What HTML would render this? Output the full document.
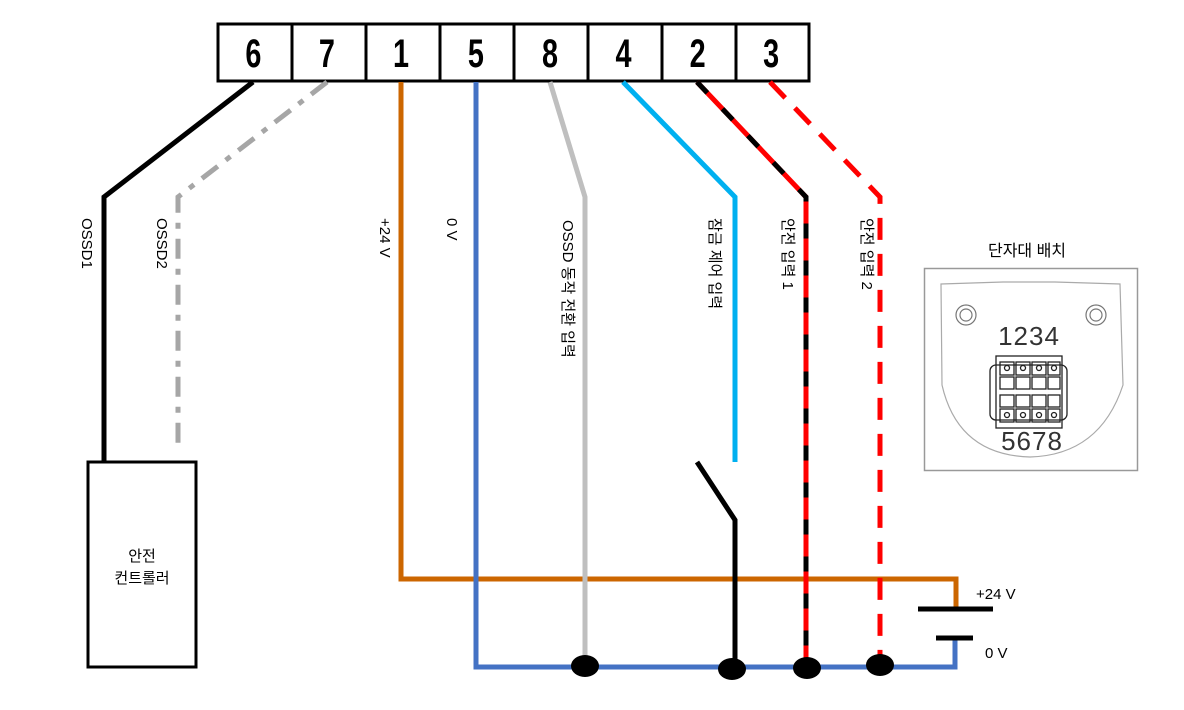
<!DOCTYPE html>
<html><head><meta charset="utf-8"><style>
html,body{margin:0;padding:0;background:#fff}
svg{display:block}
text{font-family:"Liberation Sans","Noto Sans CJK KR",sans-serif}
</style></head><body>
<svg width="1184" height="710" viewBox="0 0 1184 710" xmlns="http://www.w3.org/2000/svg">
<g stroke="#000" stroke-width="3" fill="#fff">
<rect x="218" y="24" width="591" height="57"/>
<line x1="292" y1="24" x2="292" y2="81"/><line x1="366" y1="24" x2="366" y2="81"/>
<line x1="440" y1="24" x2="440" y2="81"/><line x1="514" y1="24" x2="514" y2="81"/>
<line x1="588" y1="24" x2="588" y2="81"/><line x1="662" y1="24" x2="662" y2="81"/>
<line x1="736" y1="24" x2="736" y2="81"/>
</g>
<g font-size="40" font-weight="bold" text-anchor="middle" fill="#000" transform="scale(0.72,1)">
<text x="352" y="67">6</text><text x="454" y="67">7</text><text x="557" y="67">1</text>
<text x="661" y="67">5</text><text x="764" y="67">8</text><text x="866" y="67">4</text>
<text x="969" y="67">2</text><text x="1071" y="67">3</text>
</g>
<g fill="none" stroke-width="5">
<polyline points="253,82 104,197 104,462" stroke="#000"/>
<polyline points="327,82 178,197 178,452" stroke="#a6a6a6" stroke-dasharray="20 10 6 10"/>
<polyline points="401,82 401,579 956,579 956,607" stroke="#cc6600"/>
<polyline points="476,82 476,667 955,667 955,640" stroke="#4472c4"/>
<polyline points="550,82 585,197 585,665" stroke="#bfbfbf"/>
<polyline points="623,82 735,197 735,462" stroke="#00b0f0"/>
<polyline points="697,462 735,520 735,668" stroke="#000"/>
<polyline points="697,82 806,197 806,668" stroke="#ff0000"/>
<polyline points="697,82 806,197 806,668" stroke="#000" stroke-dasharray="15 22"/>
<polyline points="770,82 880,197 880,665" stroke="#ff0000" stroke-dasharray="22 14"/>
</g>
<line x1="918" y1="609" x2="993" y2="609" stroke="#000" stroke-width="5"/>
<line x1="936" y1="638" x2="973" y2="638" stroke="#000" stroke-width="5"/>
<text x="976" y="599" font-size="15">+24 V</text>
<text x="985" y="658" font-size="15">0 V</text>
<g fill="#000">
<ellipse cx="585" cy="666" rx="14" ry="11"/><ellipse cx="732" cy="669" rx="14" ry="11"/>
<ellipse cx="807" cy="668" rx="14" ry="11"/><ellipse cx="880" cy="665" rx="14" ry="11"/>
</g>
<rect x="88" y="462" width="108" height="205" fill="#fff" stroke="#000" stroke-width="3"/>
<text x="142" y="561" font-size="15" text-anchor="middle">안전</text>
<text x="142" y="583" font-size="15" text-anchor="middle">컨트롤러</text>
<g font-size="15" fill="#000">
<text transform="translate(82,218) rotate(90)">OSSD1</text>
<text transform="translate(157,218) rotate(90)">OSSD2</text>
<text transform="translate(380,218) rotate(90)">+24 V</text>
<text transform="translate(447,218) rotate(90)">0 V</text>
<text transform="translate(563,220) rotate(90)">OSSD 동작 전환 입력</text>
<text transform="translate(710,218) rotate(90)">잠금 제어 입력</text>
<text transform="translate(783,218) rotate(90)">안전 입력 1</text>
<text transform="translate(862,218) rotate(90)">안전 입력 2</text>
</g>
<text x="1027" y="256" font-size="16" text-anchor="middle">단자대 배치</text>
<rect x="924.5" y="268.5" width="213" height="202" fill="#fff" stroke="#999" stroke-width="1.5"/>
<path d="M941,284 L1003,282 L1055,282 L1120,284 L1123,385 Q1100,455 1030,457 Q958,455 942,385 Z" fill="none" stroke="#aaa" stroke-width="1.2"/>
<g fill="none" stroke="#777" stroke-width="1.2">
<circle cx="966" cy="315" r="10"/><circle cx="966" cy="315" r="6"/>
<circle cx="1096" cy="315" r="10"/><circle cx="1096" cy="315" r="6"/>
</g>
<text x="1029" y="345" font-size="26" text-anchor="middle" fill="#333" letter-spacing="1">1234</text>
<text x="1032" y="450" font-size="26" text-anchor="middle" fill="#333" letter-spacing="1">5678</text>
<g fill="none" stroke="#222" stroke-width="1.3">
<rect x="990" y="365" width="77" height="55" rx="6"/>
<rect x="996" y="356" width="66" height="72"/>
<rect x="1000" y="362" width="14" height="13"/><rect x="1016" y="362" width="14" height="13"/>
<rect x="1032" y="362" width="14" height="13"/><rect x="1048" y="362" width="12" height="13"/>
<rect x="1000" y="377" width="14" height="12"/><rect x="1016" y="377" width="14" height="12"/>
<rect x="1032" y="377" width="14" height="12"/><rect x="1048" y="377" width="12" height="12"/>
<rect x="1000" y="395" width="14" height="12"/><rect x="1016" y="395" width="14" height="12"/>
<rect x="1032" y="395" width="14" height="12"/><rect x="1048" y="395" width="12" height="12"/>
<rect x="1000" y="409" width="14" height="13"/><rect x="1016" y="409" width="14" height="13"/>
<rect x="1032" y="409" width="14" height="13"/><rect x="1048" y="409" width="12" height="13"/>
<circle cx="1007" cy="368" r="2.5"/><circle cx="1023" cy="368" r="2.5"/><circle cx="1039" cy="368" r="2.5"/><circle cx="1054" cy="368" r="2.5"/>
<circle cx="1007" cy="415" r="2.5"/><circle cx="1023" cy="415" r="2.5"/><circle cx="1039" cy="415" r="2.5"/><circle cx="1054" cy="415" r="2.5"/>
</g>
</svg>
</body></html>
